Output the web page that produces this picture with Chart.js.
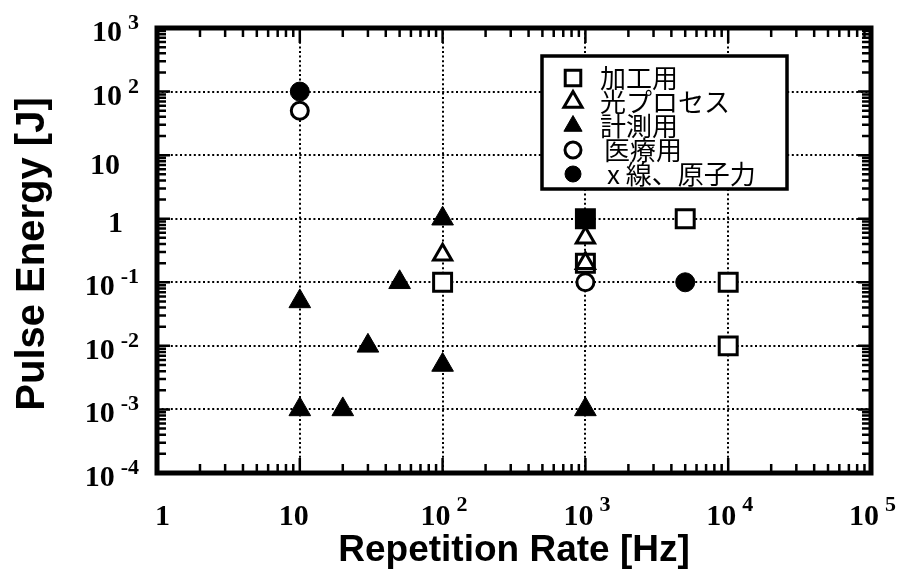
<!DOCTYPE html>
<html><head><meta charset="utf-8">
<script src="https://cdn.jsdelivr.net/npm/chart.js@4"></script>
<style>html,body{margin:0;padding:0;background:#fff}#wrap{width:903px;height:576px}</style>
</head><body><div id="wrap"><canvas id="c" width="903" height="576"></canvas></div>
<script>
// ---- data ----
const categories = ['加工用', '光プロセス', '計測用', '医療用', 'x 線、原子力'];
const processingX = [100, 1000, 1000, 5000, 10000, 10000];
const processingY = [0.1, 1, 0.2, 1, 0.1, 0.01];
const photoProcessX = [100, 1000, 1000];
const photoProcessY = [0.27, 0.5, 0.2];
const measurementX = [10, 10, 20, 30, 50, 100, 100, 1000];
const measurementY = [0.05, 0.001, 0.001, 0.01, 0.1, 1, 0.005, 0.001];
const medicalX = [10, 1000];
const medicalY = [50, 0.1];
const xrayNuclearX = [10, 5000];
const xrayNuclearY = [100, 0.1];
const xTickValues = [1, 10, 100, 1000, 10000, 100000];
const xTickLabels = [['1', ''], ['10', ''], ['10', '2'], ['10', '3'], ['10', '4'], ['10', '5']];
const yTickValues = [1000, 100, 10, 1, 0.1, 0.01, 0.001, 0.0001];
const yTickLabels = [['10', '3'], ['10', '2'], ['10', ''], ['1', ''], ['10', '-1'], ['10', '-2'], ['10', '-3'], ['10', '-4']];
const xTitle = 'Repetition Rate [Hz]';
const yTitle = 'Pulse Energy [J]';

function pts(xs, ys) { return xs.map((x, i) => ({ x: x, y: ys[i] })); }

const BLACK = '#000';
const datasets = [
  { label: categories[0], order: 5, data: pts(processingX, processingY), pointStyle: 'rect', pointRadius: 12.7,
    backgroundColor: ctx => (ctx.dataIndex === 1 ? BLACK : '#fff'), borderColor: BLACK, borderWidth: 3 },
  { label: categories[1], order: 1, data: pts(photoProcessX, photoProcessY), pointStyle: 'triangle', pointRadius: 10.5,
    backgroundColor: '#fff', borderColor: BLACK, borderWidth: 3 },
  { label: categories[2], order: 2, data: pts(measurementX, measurementY), pointStyle: 'triangle', pointRadius: 12.5,
    backgroundColor: BLACK, borderColor: BLACK, borderWidth: 1 },
  { label: categories[3], order: 4, data: pts(medicalX, medicalY), pointStyle: 'circle', pointRadius: 8.5,
    backgroundColor: '#fff', borderColor: BLACK, borderWidth: 3 },
  { label: categories[4], order: 3, data: pts(xrayNuclearX, xrayNuclearY), pointStyle: 'circle', pointRadius: 9.5,
    backgroundColor: BLACK, borderColor: BLACK, borderWidth: 1 }
];

const SERIF = '"Liberation Serif", "Times New Roman", serif';
const SANS = '"Liberation Sans", Arial, sans-serif';
const CJK = '"Noto Sans CJK JP", "Noto Sans", sans-serif';

const decoPlugin = {
  id: 'deco',
  afterDraw(chart) {
    const ctx = chart.ctx, a = chart.chartArea;
    const xs = chart.scales.x, ys = chart.scales.y;
    ctx.save();
    ctx.strokeStyle = BLACK; ctx.fillStyle = BLACK;
    // minor & major ticks, inward on all sides
    ctx.lineWidth = 2.5;
    ctx.beginPath();
    for (let e = 0; e < 5; e++) {
      for (let m = 1; m <= 9; m++) {
        const v = m * Math.pow(10, e);
        if (v <= 1 || v >= 100000) continue;
        const px = xs.getPixelForValue(v);
        const len = m === 1 ? 15 : 9;
        ctx.moveTo(px, a.bottom); ctx.lineTo(px, a.bottom - len);
        ctx.moveTo(px, a.top); ctx.lineTo(px, a.top + len);
      }
    }
    for (let e = -4; e < 3; e++) {
      for (let m = 1; m <= 9; m++) {
        const v = m * Math.pow(10, e);
        if (v <= 0.0001 || v >= 1000) continue;
        const py = ys.getPixelForValue(v);
        const len = m === 1 ? 13 : 9;
        ctx.moveTo(a.left, py); ctx.lineTo(a.left + len, py);
        ctx.moveTo(a.right, py); ctx.lineTo(a.right - len, py);
      }
    }
    ctx.stroke();
    // frame
    ctx.lineWidth = 5;
    ctx.strokeRect(a.left, a.top, a.right - a.left, a.bottom - a.top);

    // x tick labels
    ctx.textBaseline = 'alphabetic';
    xTickValues.forEach((v, i) => {
      const px = xs.getPixelForValue(v);
      const [man, ex] = xTickLabels[i];
      ctx.font = 'bold 30px ' + SERIF;
      if (!ex) {
        ctx.textAlign = 'right';
        ctx.fillText(man, px + (man.length === 1 ? 13 : 9), 525);
      } else {
        ctx.textAlign = 'right';
        ctx.fillText(man, px + 8, 525);
        ctx.font = 'bold 22px ' + SERIF;
        ctx.textAlign = 'left';
        ctx.fillText(ex, px + 14, 511);
      }
    });
    // y tick labels
    yTickValues.forEach((v, i) => {
      const py = ys.getPixelForValue(v);
      const [man, ex] = yTickLabels[i];
      if (!ex) {
        ctx.font = 'bold 30px ' + SERIF;
        ctx.textAlign = 'right';
        ctx.fillText(man, man.length === 1 ? 123 : 120, py + (man.length === 1 ? 13 : 19));
      } else {
        ctx.font = 'bold 22px ' + SERIF;
        ctx.textAlign = 'right';
        ctx.fillText(ex, 139, py + 1);
        const w = ctx.measureText(ex).width;
        ctx.font = 'bold 30px ' + SERIF;
        ctx.fillText(man, 139 - w - 6, py + 13);
      }
    });
    // axis titles
    ctx.font = 'bold 37px ' + SANS;
    ctx.textAlign = 'center';
    ctx.fillText(xTitle, 514, 561);
    ctx.save();
    ctx.translate(44, 254);
    ctx.rotate(-Math.PI / 2);
    ctx.font = 'bold 40px ' + SANS;
    ctx.fillText(yTitle, 0, 0);
    ctx.restore();

    // legend
    const box = { x: 542, y: 56, w: 245, h: 133 };
    ctx.fillStyle = '#fff';
    ctx.fillRect(box.x, box.y, box.w, box.h);
    ctx.lineWidth = 3.5;
    ctx.strokeRect(box.x, box.y, box.w, box.h);
    const rowY = [78, 102, 126, 150, 174];
    const textX = [600, 600, 600, 604, 607];
    chart.data.datasets.forEach((ds, i) => {
      const y = rowY[i];
      const filled = i === 2 || i === 4;
      ctx.fillStyle = filled ? BLACK : '#fff';
      ctx.strokeStyle = BLACK;
      ctx.lineWidth = filled ? 1 : 3;
      const r = ds.pointStyle === 'rect' ? 11 : (ds.pointStyle === 'triangle' ? 10.5 : 8);
      Chart.helpers.drawPoint(ctx, { pointStyle: ds.pointStyle, radius: r, rotation: 0, borderWidth: ctx.lineWidth }, 573, y);
      ctx.fillStyle = BLACK;
      ctx.font = '26px ' + CJK;
      ctx.textAlign = 'left';
      ctx.textBaseline = 'middle';
      ctx.fillText(ds.label, textX[i], y);
    });
    ctx.restore();
  }
};

new Chart(document.getElementById('c'), {
  type: 'scatter',
  data: { datasets: datasets },
  options: {
    responsive: false,
    animation: false,
    events: [],
    layout: { padding: { left: 157, right: 32, top: 28, bottom: 103 } },
    plugins: { legend: { display: false }, tooltip: { enabled: false } },
    scales: {
      x: {
        type: 'logarithmic', min: 1, max: 100000,
        afterBuildTicks: s => { s.ticks = xTickValues.map(v => ({ value: v })); },
        ticks: { display: false },
        grid: { color: BLACK, lineWidth: 2, drawTicks: false },
        border: { display: false, dash: [2, 2.6] }
      },
      y: {
        type: 'logarithmic', min: 0.0001, max: 1000,
        afterBuildTicks: s => { s.ticks = yTickValues.map(v => ({ value: v })); },
        ticks: { display: false },
        grid: { color: BLACK, lineWidth: 2, drawTicks: false },
        border: { display: false, dash: [2, 2.6] }
      }
    }
  },
  plugins: [decoPlugin]
});
</script>
</body></html>
